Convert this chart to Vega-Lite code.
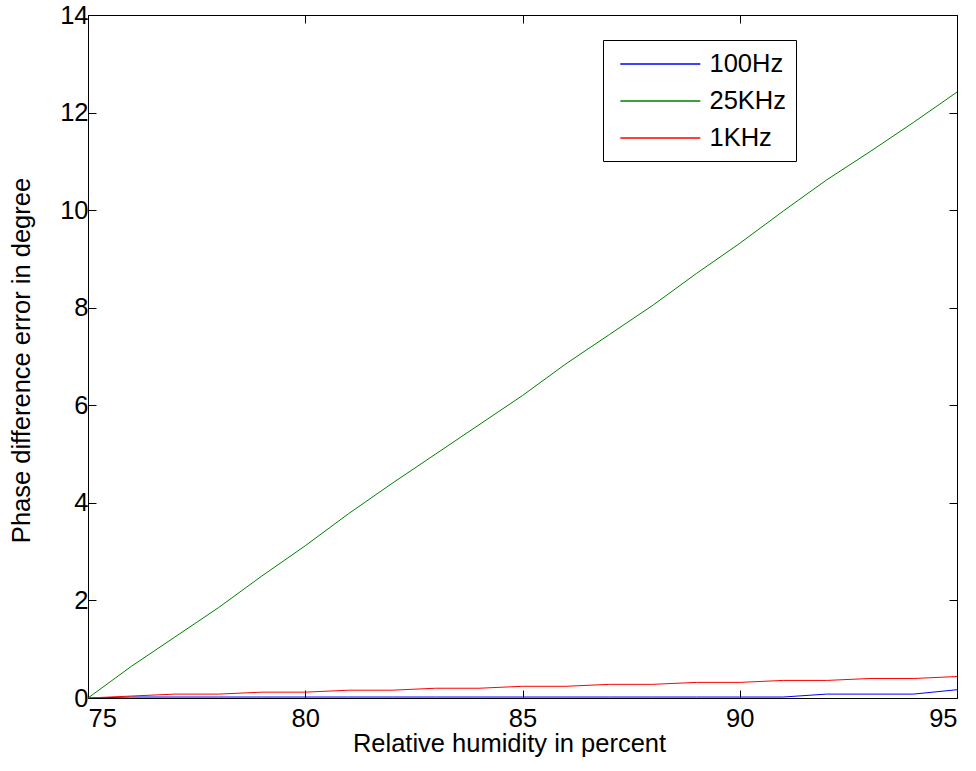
{
  "$schema": "https://vega.github.io/schema/vega-lite/v6.json",
  "autosize": "none",
  "width": 869,
  "height": 683,
  "padding": {"left": 88, "top": 15, "right": 19, "bottom": 73},
  "background": "white",
  "config": {
    "view": {"stroke": "black", "strokeWidth": 1},
    "font": "Liberation Sans",
    "axis": {"grid": false, "domain": false, "tickColor": "black", "tickSize": -8, "labelColor": "black", "labelFontSize": 25.5, "labelFont": "Liberation Sans", "titleFont": "Liberation Sans", "titleFontSize": 25.5, "titleFontWeight": "normal", "titleColor": "black"}
  },
  "data": {"values": [
    {"rh": 75, "series": "100Hz", "err": 0.0},
    {"rh": 76, "series": "100Hz", "err": 0.02},
    {"rh": 77, "series": "100Hz", "err": 0.02},
    {"rh": 78, "series": "100Hz", "err": 0.02},
    {"rh": 79, "series": "100Hz", "err": 0.02},
    {"rh": 80, "series": "100Hz", "err": 0.02},
    {"rh": 81, "series": "100Hz", "err": 0.02},
    {"rh": 82, "series": "100Hz", "err": 0.02},
    {"rh": 83, "series": "100Hz", "err": 0.02},
    {"rh": 84, "series": "100Hz", "err": 0.02},
    {"rh": 85, "series": "100Hz", "err": 0.02},
    {"rh": 86, "series": "100Hz", "err": 0.02},
    {"rh": 87, "series": "100Hz", "err": 0.02},
    {"rh": 88, "series": "100Hz", "err": 0.02},
    {"rh": 89, "series": "100Hz", "err": 0.02},
    {"rh": 90, "series": "100Hz", "err": 0.02},
    {"rh": 91, "series": "100Hz", "err": 0.02},
    {"rh": 92, "series": "100Hz", "err": 0.08},
    {"rh": 93, "series": "100Hz", "err": 0.08},
    {"rh": 94, "series": "100Hz", "err": 0.08},
    {"rh": 95, "series": "100Hz", "err": 0.17},
    {"rh": 75, "series": "25KHz", "err": 0.0},
    {"rh": 76, "series": "25KHz", "err": 0.65},
    {"rh": 77, "series": "25KHz", "err": 1.25},
    {"rh": 78, "series": "25KHz", "err": 1.85},
    {"rh": 79, "series": "25KHz", "err": 2.5},
    {"rh": 80, "series": "25KHz", "err": 3.12},
    {"rh": 81, "series": "25KHz", "err": 3.78},
    {"rh": 82, "series": "25KHz", "err": 4.4},
    {"rh": 83, "series": "25KHz", "err": 5.0},
    {"rh": 84, "series": "25KHz", "err": 5.6},
    {"rh": 85, "series": "25KHz", "err": 6.2},
    {"rh": 86, "series": "25KHz", "err": 6.85},
    {"rh": 87, "series": "25KHz", "err": 7.45},
    {"rh": 88, "series": "25KHz", "err": 8.05},
    {"rh": 89, "series": "25KHz", "err": 8.7},
    {"rh": 90, "series": "25KHz", "err": 9.32},
    {"rh": 91, "series": "25KHz", "err": 9.98},
    {"rh": 92, "series": "25KHz", "err": 10.62},
    {"rh": 93, "series": "25KHz", "err": 11.2},
    {"rh": 94, "series": "25KHz", "err": 11.8},
    {"rh": 95, "series": "25KHz", "err": 12.42},
    {"rh": 75, "series": "1KHz", "err": 0.0},
    {"rh": 76, "series": "1KHz", "err": 0.04},
    {"rh": 77, "series": "1KHz", "err": 0.08},
    {"rh": 78, "series": "1KHz", "err": 0.08},
    {"rh": 79, "series": "1KHz", "err": 0.12},
    {"rh": 80, "series": "1KHz", "err": 0.12},
    {"rh": 81, "series": "1KHz", "err": 0.16},
    {"rh": 82, "series": "1KHz", "err": 0.16},
    {"rh": 83, "series": "1KHz", "err": 0.2},
    {"rh": 84, "series": "1KHz", "err": 0.2},
    {"rh": 85, "series": "1KHz", "err": 0.24},
    {"rh": 86, "series": "1KHz", "err": 0.24},
    {"rh": 87, "series": "1KHz", "err": 0.28},
    {"rh": 88, "series": "1KHz", "err": 0.28},
    {"rh": 89, "series": "1KHz", "err": 0.32},
    {"rh": 90, "series": "1KHz", "err": 0.32},
    {"rh": 91, "series": "1KHz", "err": 0.36},
    {"rh": 92, "series": "1KHz", "err": 0.36},
    {"rh": 93, "series": "1KHz", "err": 0.4},
    {"rh": 94, "series": "1KHz", "err": 0.4},
    {"rh": 95, "series": "1KHz", "err": 0.44}
  ]},
  "layer": [
    {
      "mark": {"type": "line", "strokeWidth": 1, "clip": true},
      "encoding": {
        "x": {"field": "rh", "type": "quantitative", "scale": {"domain": [75, 95], "nice": false, "zero": false},
              "axis": {"values": [75, 80, 85, 90, 95], "title": "Relative humidity in percent", "labelPadding": 16, "titlePadding": 0, "titleX": 421}},
        "y": {"field": "err", "type": "quantitative", "scale": {"domain": [0, 14], "nice": false},
              "axis": {"values": [0, 2, 4, 6, 8, 10, 12, 14], "title": "Phase difference error in degree", "labelPadding": 8, "titlePadding": 25, "titleY": 345}},
        "color": {"field": "series", "type": "nominal", "sort": ["100Hz", "25KHz", "1KHz"],
                  "scale": {"domain": ["100Hz", "25KHz", "1KHz"], "range": ["#0000ff", "#008000", "#ff0000"]},
                  "legend": {"title": null, "orient": "none", "legendX": 515, "legendY": 25, "strokeColor": "black", "fillColor": "white",
                             "padding": 9.5, "symbolType": "M-0.5,0H5.5", "symbolSize": 711, "symbolStrokeWidth": 1.5, "labelFontSize": 25.5, "labelFont": "Liberation Sans", "labelColor": "black", "rowPadding": 9, "labelOffset": 68}}
      }
    },
    {
      "mark": {"type": "line", "opacity": 0},
      "encoding": {
        "x": {"field": "rh", "type": "quantitative", "axis": {"orient": "top", "values": [75, 80, 85, 90, 95], "labels": false, "title": null}},
        "y": {"field": "err", "type": "quantitative", "axis": {"orient": "right", "values": [0, 2, 4, 6, 8, 10, 12, 14], "labels": false, "title": null}}
      }
    }
  ],
  "resolve": {"axis": {"x": "independent", "y": "independent"}}
}
